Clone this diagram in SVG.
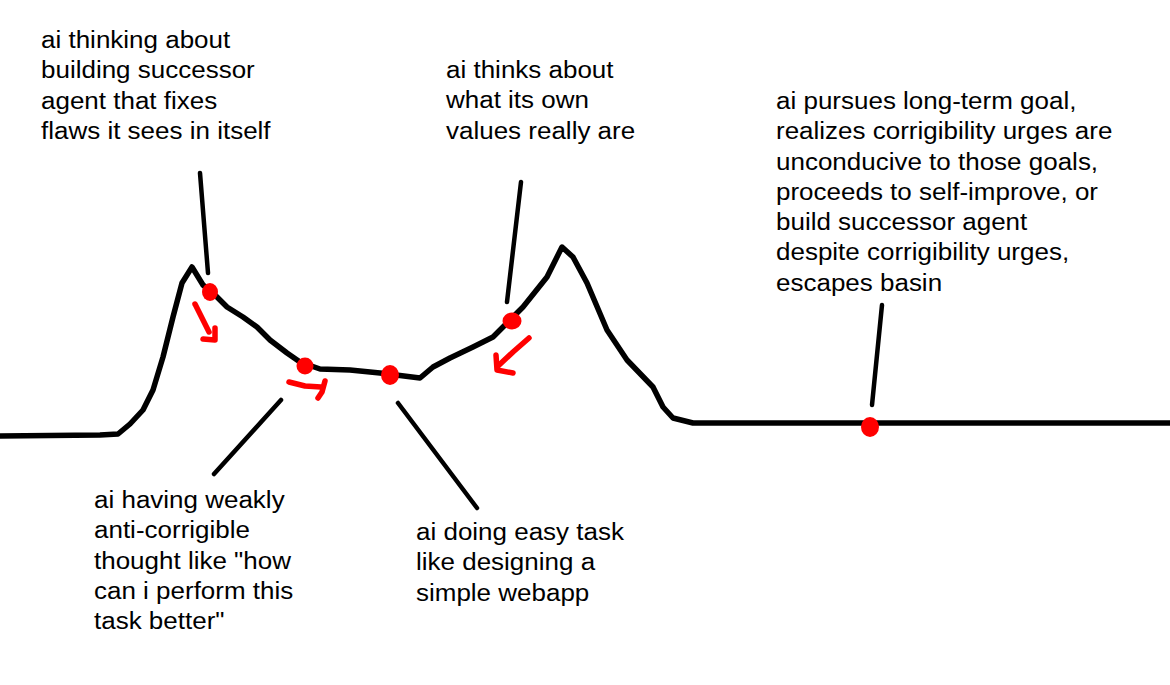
<svg xmlns="http://www.w3.org/2000/svg" width="1170" height="685" viewBox="0 0 1170 685">
<style>
.t{font-family:"Liberation Sans",Arial,sans-serif;font-size:23px;fill:#000}
.blk{fill:none;stroke:#000;stroke-width:5.5;stroke-linecap:round;stroke-linejoin:round}
.ptr{fill:none;stroke:#000;stroke-width:4.5;stroke-linecap:round}
.red{fill:none;stroke:#ff0000;stroke-width:5.5;stroke-linecap:round;stroke-linejoin:round}
.dot{fill:#ff0000}
</style>
<rect width="1170" height="685" fill="#fff"/>
<g id="landscape">
<path class="blk" d="M0,436 L100,435 L118,434 L130,424 L143,410 L153,390 L163,357 L173,317 L182,283 L192,267 L203,285 L213,293 L227,307 L243,317 L257,327 L270,340 L287,353 L300,362 L320,369 L350,370 L380,373 L420,378 L433,367 L450,358 L473,347 L493,337 L507,323 L523,307 L547,277 L562,247 L573,257 L587,283 L607,330 L627,360 L653,387 L663,407 L673,418 L693,423 L1170,423"/>
</g>
<g id="connectors">
<line class="ptr" x1="200" y1="173" x2="208" y2="273"/>
<line class="ptr" x1="521" y1="182" x2="507" y2="302"/>
<line class="ptr" x1="281" y1="400" x2="214" y2="474"/>
<line class="ptr" x1="398" y1="403" x2="477" y2="508"/>
<line class="ptr" x1="882" y1="305" x2="872" y2="405"/>
</g>
<g id="red-arrows">
<path class="red" d="M195,304 L202,318 L209,332"/>
<path class="red" d="M215,328 L215,340 L203,339"/>
<path class="red" d="M289,382 L305,386 L321,387"/>
<path class="red" d="M325,381 L322,392 L318,398"/>
<path class="red" d="M529,338 L513,352 L498,366"/>
<path class="red" d="M496,355 L497,370 L513,373"/>
</g>
<g id="dots">
<ellipse class="dot" cx="210" cy="292" rx="8" ry="9"/>
<circle class="dot" cx="305" cy="366" r="8.5"/>
<ellipse class="dot" cx="390" cy="375" rx="9" ry="10"/>
<ellipse class="dot" cx="512" cy="321" rx="9.5" ry="8.5"/>
<ellipse class="dot" cx="870" cy="427" rx="9" ry="10"/>
</g>
<g id="label-successor" transform="translate(41,0) scale(1.13,1)">
<text class="t" y="48"><tspan x="0">ai thinking about</tspan><tspan x="0" dy="30.3">building successor</tspan><tspan x="0" dy="30.3">agent that fixes</tspan><tspan x="0" dy="30.3">flaws it sees in itself</tspan></text>
</g>
<g id="label-values" transform="translate(446,0) scale(1.13,1)">
<text class="t" y="78"><tspan x="0">ai thinks about</tspan><tspan x="0" dy="30.3">what its own</tspan><tspan x="0" dy="30.3">values really are</tspan></text>
</g>
<g id="label-escape" transform="translate(776,0) scale(1.13,1)">
<text class="t" y="109"><tspan x="0">ai pursues long-term goal,</tspan><tspan x="0" dy="30.3">realizes corrigibility urges are</tspan><tspan x="0" dy="30.3">unconducive to those goals,</tspan><tspan x="0" dy="30.3">proceeds to self-improve, or</tspan><tspan x="0" dy="30.3">build successor agent</tspan><tspan x="0" dy="30.3">despite corrigibility urges,</tspan><tspan x="0" dy="30.3">escapes basin</tspan></text>
</g>
<g id="label-weakly" transform="translate(94,0) scale(1.13,1)">
<text class="t" y="508"><tspan x="0">ai having weakly</tspan><tspan x="0" dy="30.3">anti-corrigible</tspan><tspan x="0" dy="30.3">thought like "how</tspan><tspan x="0" dy="30.3">can i perform this</tspan><tspan x="0" dy="30.3">task better"</tspan></text>
</g>
<g id="label-easy" transform="translate(416,0) scale(1.13,1)">
<text class="t" y="540"><tspan x="0">ai doing easy task</tspan><tspan x="0" dy="30.3">like designing a</tspan><tspan x="0" dy="30.3">simple webapp</tspan></text>
</g>
</svg>
